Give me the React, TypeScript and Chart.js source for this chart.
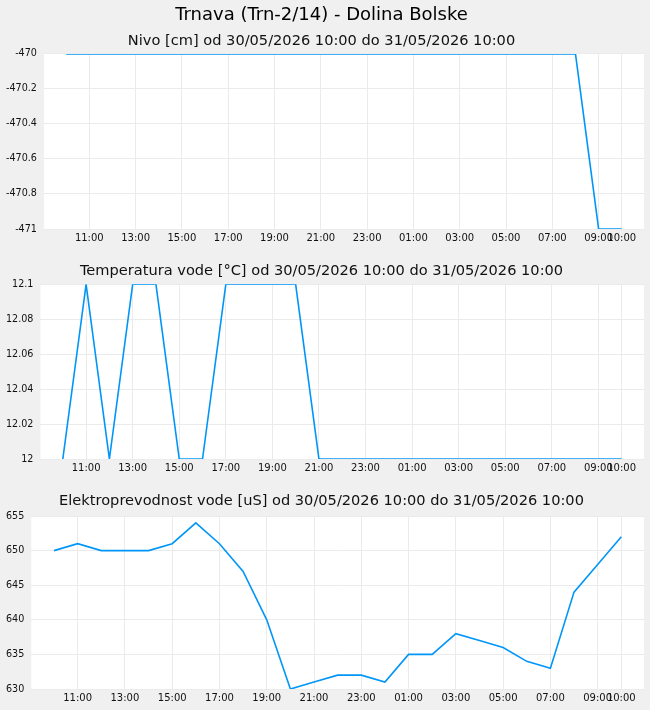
import React, { useEffect, useRef } from 'react';
import { Chart, registerables } from 'chart.js';

Chart.register(...registerables);

// Hourly timestamps from 30/05/2026 10:00 to 31/05/2026 10:00
const hourLabels = [
  '10:00', '11:00', '12:00', '13:00', '14:00', '15:00', '16:00', '17:00', '18:00',
  '19:00', '20:00', '21:00', '22:00', '23:00', '00:00', '01:00', '02:00', '03:00',
  '04:00', '05:00', '06:00', '07:00', '08:00', '09:00', '10:00',
];
// indices of hourLabels that carry an x tick
const xTickIndex = [1, 3, 5, 7, 9, 11, 13, 15, 17, 19, 21, 23, 24];

const mainTitle = 'Trnava (Trn-2/14) - Dolina Bolske';
const nivoTitle = 'Nivo [cm] od 30/05/2026 10:00 do 31/05/2026 10:00';
const tempTitle = 'Temperatura vode [°C] od 30/05/2026 10:00 do 31/05/2026 10:00';
const condTitle = 'Elektroprevodnost vode [uS] od 30/05/2026 10:00 do 31/05/2026 10:00';

const nivoValues = [
  -470, -470, -470, -470, -470, -470, -470, -470, -470, -470, -470, -470, -470,
  -470, -470, -470, -470, -470, -470, -470, -470, -470, -470, -471, -471,
];
const tempValues = [
  12, 12.1, 12, 12.1, 12.1, 12, 12, 12.1, 12.1, 12.1, 12.1, 12, 12,
  12, 12, 12, 12, 12, 12, 12, 12, 12, 12, 12, 12,
];
const condValues = [
  650, 651, 650, 650, 650, 651, 654, 651, 647, 640, 630, 631, 632,
  632, 631, 635, 635, 638, 637, 636, 634, 633, 644, 648, 652,
];

const FONT = 'DejaVu Sans';
const LINE_COLOR = '#0096f8';
const GRID_COLOR = '#ebebeb';

const plotBackground = {
  id: 'plotBackground',
  beforeDraw(chart: any) {
    const { ctx, chartArea: a } = chart;
    ctx.save();
    ctx.fillStyle = '#ffffff';
    ctx.fillRect(a.left, a.top, a.right - a.left, a.bottom - a.top);
    ctx.restore();
  },
};

type PanelProps = {
  height: number;
  values: number[];
  yMin: number;
  yMax: number;
  yStep: number;
  title: string;
  titlePad: { top: number; bottom: number };
  main?: string;
  mainPad?: { top: number; bottom: number };
  bottomPad: number;
};

function Panel(props: PanelProps) {
  const ref = useRef<HTMLCanvasElement | null>(null);
  useEffect(() => {
    if (!ref.current) return;
    const points = props.values.map((v, i) => ({ x: i, y: v }));
    const plugins: any = {
      legend: { display: false },
      tooltip: { enabled: false },
    };
    if (props.main) {
      plugins.title = {
        display: true,
        text: props.main,
        color: '#000',
        font: { family: FONT, size: 18, weight: 'normal' },
        padding: props.mainPad,
      };
      plugins.subtitle = {
        display: true,
        text: props.title,
        color: '#111',
        font: { family: FONT, size: 14.6, weight: 'normal' },
        padding: props.titlePad,
      };
    } else {
      plugins.title = {
        display: true,
        text: props.title,
        color: '#111',
        font: { family: FONT, size: 14.6, weight: 'normal' },
        padding: props.titlePad,
      };
    }
    const chart = new Chart(ref.current, {
      type: 'line',
      data: {
        datasets: [
          {
            data: points,
            borderColor: LINE_COLOR,
            borderWidth: 1.6,
            pointRadius: 0,
            tension: 0,
            fill: false,
          },
        ],
      },
      options: {
        animation: false,
        responsive: false,
        layout: { padding: { left: -1, right: 6, top: 0, bottom: props.bottomPad } },
        plugins,
        scales: {
          x: {
            type: 'linear',
            min: -0.96,
            max: 24.96,
            afterBuildTicks: (scale: any) => {
              scale.ticks = xTickIndex.map((v) => ({ value: v }));
            },
            grid: { color: GRID_COLOR, drawTicks: false },
            border: { display: false },
            ticks: {
              autoSkip: false,
              maxRotation: 0,
              padding: 3,
              color: '#111',
              font: { family: FONT, size: 10 },
              callback: (v: any) => hourLabels[Math.round(Number(v))],
            },
          },
          y: {
            type: 'linear',
            min: props.yMin,
            max: props.yMax,
            grid: { color: GRID_COLOR, drawTicks: false },
            border: { display: false },
            ticks: {
              stepSize: props.yStep,
              padding: 7,
              color: '#111',
              font: { family: FONT, size: 9.6 },
              callback: (v: any) => String(Math.round(Number(v) * 1000) / 1000),
            },
          },
        },
      } as any,
      plugins: [plotBackground],
    });
    return () => chart.destroy();
  }, []);
  return (
    <canvas
      ref={ref}
      width={650}
      height={props.height}
      style={{ display: 'block', width: 650, height: props.height }}
    />
  );
}

export default function App() {
  useEffect(() => {
    document.body.style.margin = '0';
    document.body.style.background = '#f0f0f0';
  }, []);
  return (
    <div style={{ width: 650, height: 710, background: '#f0f0f0', overflow: 'hidden' }}>
      <Panel
        height={247}
        values={nivoValues}
        yMin={-471}
        yMax={-470}
        yStep={0.2}
        main={mainTitle}
        mainPad={{ top: 4.2, bottom: 0 }}
        title={nivoTitle}
        titlePad={{ top: 6.4, bottom: 4.2 }}
        bottomPad={0}
      />
      <Panel
        height={230}
        values={tempValues}
        yMin={12}
        yMax={12.1}
        yStep={0.02}
        title={tempTitle}
        titlePad={{ top: 15.2, bottom: 4.6 }}
        bottomPad={0}
      />
      <Panel
        height={233}
        values={condValues}
        yMin={630}
        yMax={655}
        yStep={5}
        title={condTitle}
        titlePad={{ top: 15.2, bottom: 6.3 }}
        bottomPad={3}
      />
    </div>
  );
}
